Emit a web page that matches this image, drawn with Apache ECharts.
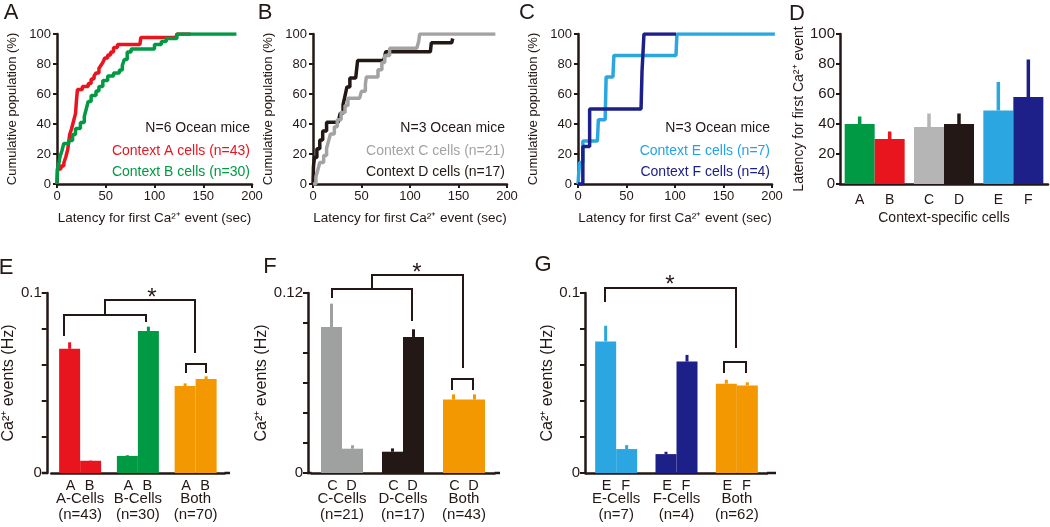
<!DOCTYPE html>
<html><head><meta charset="utf-8">
<script src="https://cdn.jsdelivr.net/npm/echarts@6/dist/echarts.min.js"></script>
<style>html,body{margin:0;padding:0;background:#fff}#c{width:1050px;height:527px}</style>
</head><body><div id="c"></div>
<script>
// ---------- DATA ----------
// Panel A: cumulative population (%) vs latency (sec)
const cdfA_red = [[0,0],[0.5,10],[4,12],[7,14],[9,18],[11,23],[12,28],[13,33],[15,37],[17,42],[19,47],[20,56],[21,63],[26,65],[32,67],[35,70],[38,72],[40,74],[43,77],[45,79],[47,81],[49,84],[52,86],[55,88],[58,91],[62,93],[85,93],[86,97.7],[122,97.7],[123,100],[137,100]];
const cdfA_green = [[0,0],[0.5,10],[2,14],[3,18],[5,22],[7,27],[12,29],[16,33],[19,37],[24,41],[28,45],[30,50],[32,55],[35,59],[40,62],[43,65],[47,69],[52,72],[58,74],[64,76],[67,79],[69,83],[72,88],[76,90],[97,90],[100,93],[107,95],[112,97],[123,100],[184,100]];
// Panel B
const cdfB_gray = [[0,0],[3,4.8],[5,9.5],[7,14.3],[11,19],[14,23.8],[16,28.6],[18,33.3],[22,38.1],[25,42.9],[29,47.6],[33,52.4],[36,57.1],[48,57.1],[50,61.9],[54,66.7],[55,71.4],[64,71.4],[67,76.2],[71,81],[74,85.7],[79,90.5],[107,90.5],[109,95.2],[110,100],[188,100]];
const cdfB_black = [[0,0],[0.5,11.8],[1.5,17.6],[4,23.5],[7,29.4],[10,35.3],[14,41.2],[26,41.2],[28,47.1],[31,52.9],[33,58.8],[35,64.7],[38,70.6],[44,70.6],[45,76.5],[46,82.4],[73,82.4],[75,88.2],[121,88.2],[122,94.1],[143,94.1],[144,97]];
// Panel C
const cdfC_light = [[0,0],[1.5,14.3],[5,28.6],[20,28.6],[21,42.9],[28,42.9],[29,71.4],[36,71.4],[37,85.7],[101,85.7],[102,100],[203,100]];
const cdfC_navy = [[0,0],[5,25],[12,50],[65,50],[66,75],[68,100],[101,100]];

// Panel D: latency for first Ca2+ event (mean, error top)
const dGroups = ['AB','CD','EF'];
const dFirstLabels = ['A','C','E'];
const dSecondLabels = ['B','D','F'];
const dFirst = [40, 38, 49];
const dFirstErr = [45, 47, 68];
const dSecond = [30, 40, 58];
const dSecondErr = [35, 47, 83];

// Panel E
const eGroups = ['A-Cells','B-Cells','Both'];
const eN = ['(n=43)','(n=30)','(n=70)'];
const eFirst = [0.069, 0.0095, 0.0483];
const eFirstErr = [0.0726, 0.0099, 0.0498];
const eSecond = [0.0068, 0.0789, 0.0522];
const eSecondErr = [0.0070, 0.0813, 0.0537];
// Panel F
const fGroups = ['C-Cells','D-Cells','Both'];
const fN = ['(n=21)','(n=17)','(n=43)'];
const fFirst = [0.0973, 0.0142, 0.049];
const fFirstErr = [0.1129, 0.0164, 0.0524];
const fSecond = [0.0162, 0.0907, 0.049];
const fSecondErr = [0.0185, 0.0958, 0.0524];
// Panel G
const gGroups = ['E-Cells','F-Cells','Both'];
const gN = ['(n=7)','(n=4)','(n=62)'];
const gFirst = [0.0731, 0.0105, 0.0496];
const gFirstErr = [0.0818, 0.0118, 0.0518];
const gSecond = [0.0133, 0.0619, 0.0486];
const gSecondErr = [0.0155, 0.0656, 0.0504];

// ---------- STYLE ----------
const K = '#231815', RED = '#e8141e', GREEN = '#009944', GRAY = '#a3a3a3', LBLUE = '#2ca6e0', NAVY = '#1d2088', ORANGE = '#f39800';
const FONT = 'Liberation Sans';

const chart = echarts.init(document.getElementById('c'), null, {renderer: 'canvas'});

const grids = [], xAxes = [], yAxes = [], series = [];

function cdfPanel(left, width) {
  const i = grids.length;
  grids.push({left: left, top: 34, width: width, height: 150});
  xAxes.push({gridIndex: i, type: 'value', min: 0, max: 200, interval: 50,
    axisLine: {lineStyle: {color: K, width: 2.5}}, axisTick: {length: 4, lineStyle: {color: K, width: 2}},
    axisLabel: {color: K, fontSize: 13, fontFamily: FONT, margin: 6}, splitLine: {show: false},
    name: 'Latency for first Ca²⁺ event (sec)', nameLocation: 'middle', nameGap: 27,
    nameTextStyle: {color: K, fontSize: 13.5, fontFamily: FONT}});
  yAxes.push({gridIndex: i, type: 'value', min: 0, max: 100, interval: 20,
    axisLine: {lineStyle: {color: K, width: 2.5}}, axisTick: {length: 4, lineStyle: {color: K, width: 2}},
    axisLabel: {color: K, fontSize: 13, fontFamily: FONT, margin: 6}, splitLine: {show: false},
    name: 'Cumulative population (%)', nameLocation: 'middle', nameGap: 38,
    nameTextStyle: {color: K, fontSize: 13, fontFamily: FONT}});
  return i;
}
function stepLine(i, data, color) {
  series.push({type: 'line', xAxisIndex: i, yAxisIndex: i, data: data, step: 'end', symbol: 'none',
    lineStyle: {color: color, width: 3.5}, silent: true, animation: false});
}

const a = cdfPanel(57, 195); stepLine(a, cdfA_red, RED); stepLine(a, cdfA_green, GREEN);
const b = cdfPanel(313, 194); stepLine(b, cdfB_black, K); stepLine(b, cdfB_gray, GRAY);
const c = cdfPanel(578, 194); stepLine(c, cdfC_light, LBLUE); stepLine(c, cdfC_navy, NAVY);

function errSeries(i, first, firstErr, second, secondErr, colsFirst, colsSecond, barW, errW) {
  const data = [];
  first.forEach((v, k) => { data.push([k, firstErr[k], v, -1]); data.push([k, secondErr[k], second[k], 1]); });
  series.push({type: 'custom', xAxisIndex: i, yAxisIndex: i, data: data, encode: {x: 0, y: 1}, silent: true, animation: false,
    renderItem: function (params, api) {
      const k = api.value(0), top = api.value(1), base = api.value(2), side = api.value(3);
      const p0 = api.coord([k, base]), p1 = api.coord([k, top]);
      const cx = p0[0] + side * barW / 2;
      return {type: 'rect', shape: {x: cx - errW / 2, y: p1[1], width: errW, height: p0[1] - p1[1]},
        style: {fill: side < 0 ? colsFirst[k] : colsSecond[k]}};
    }});
}
function barPair(i, first, second, colsFirst, colsSecond, barW) {
  series.push({type: 'bar', xAxisIndex: i, yAxisIndex: i, barWidth: barW, barGap: '0%', silent: true, animation: false,
    data: first.map((v, k) => ({value: v, itemStyle: {color: colsFirst[k]}}))});
  series.push({type: 'bar', xAxisIndex: i, yAxisIndex: i, barWidth: barW, barGap: '0%', silent: true, animation: false,
    data: second.map((v, k) => ({value: v, itemStyle: {color: colsSecond[k]}}))});
}

// Panel D
(function () {
  const i = grids.length;
  grids.push({left: 840, top: 34, width: 208, height: 150});
  xAxes.push({gridIndex: i, type: 'category', data: dGroups,
    axisLine: {lineStyle: {color: K, width: 2.5}}, axisTick: {show: false},
    axisLabel: {interval: 0, margin: 9, formatter: (v, k) => '{t|' + dFirstLabels[k] + '}{t|' + dSecondLabels[k] + '}',
      rich: {t: {width: 30, align: 'center', fontSize: 14, color: K, fontFamily: FONT}}},
    name: 'Context-specific cells', nameLocation: 'middle', nameGap: 27,
    nameTextStyle: {color: K, fontSize: 14, fontFamily: FONT}});
  yAxes.push({gridIndex: i, type: 'value', min: 0, max: 100, interval: 20,
    axisLine: {show: true, lineStyle: {color: K, width: 2.5}}, axisTick: {show: true, length: 4, lineStyle: {color: K, width: 2}},
    axisLabel: {color: K, fontSize: 15, fontFamily: FONT, margin: 5}, splitLine: {show: false},
    name: 'Latency for first Ca²⁺ event', nameLocation: 'middle', nameGap: 32,
    nameTextStyle: {color: K, fontSize: 14, fontFamily: FONT}});
  const cf = [GREEN, '#b5b5b6', LBLUE], cs = [RED, K, NAVY];
  barPair(i, dFirst, dSecond, cf, cs, 30);
  errSeries(i, dFirst, dFirstErr, dSecond, dSecondErr, cf, cs, 30, 3.5);
})();

function hzPanel(axisX, gridLeft, width, axisEnd, max, letters, groups, ns, first, firstErr, second, secondErr, cf, cs, nameGap) {
  const i = grids.length;
  grids.push({left: gridLeft, top: 293, width: width, height: 180});
  xAxes.push({gridIndex: i, type: 'category', data: groups,
    axisLine: {lineStyle: {color: K, width: 2.5}}, axisTick: {show: false},
    axisLabel: {interval: 0, margin: 6, formatter: (v, k) => '{t|' + letters[0] + '}{t|' + letters[1] + '}\n{m|' + groups[k] + '}\n{n|' + ns[k] + '}',
      rich: {t: {width: 19, align: 'center', fontSize: 14.5, lineHeight: 13, color: K, fontFamily: FONT},
             m: {fontSize: 15, lineHeight: 14, color: K, fontFamily: FONT},
             n: {fontSize: 15, lineHeight: 18, color: K, fontFamily: FONT}}}});
  yAxes.push({gridIndex: i, type: 'value', min: 0, max: max, interval: 0.02, offset: gridLeft - axisX,
    axisLine: {show: true, lineStyle: {color: K, width: 2.5}}, axisTick: {show: true, length: 5, lineStyle: {color: K, width: 2}},
    axisLabel: {color: K, fontSize: 15, fontFamily: FONT, margin: 5,
      formatter: v => Math.abs(v) < 1e-9 ? '0' : (Math.abs(v - max) < 1e-9 ? String(max) : '')},
    splitLine: {show: false},
    name: 'Ca²⁺ events (Hz)', nameLocation: 'middle', nameGap: nameGap,
    nameTextStyle: {color: K, fontSize: 16, fontFamily: FONT}});
  barPair(i, first, second, cf, cs, 21);
  errSeries(i, first, firstErr, second, secondErr, cf, cs, 21, 3);
  return {axisX, axisEnd, left: gridLeft, right: gridLeft + width};
}

const pE = hzPanel(43, 47.5, 177, 230, 0.1, ['A','B'], eGroups, eN, eFirst, eFirstErr, eSecond, eSecondErr, [RED, GREEN, ORANGE], [RED, GREEN, ORANGE], 14);
const pF = hzPanel(308, 311.5, 183, 500, 0.12, ['C','D'], fGroups, fN, fFirst, fFirstErr, fSecond, fSecondErr, ['#9fa0a0', K, ORANGE], ['#9fa0a0', K, ORANGE], 10);
const pG = hzPanel(585, 586, 181, 776, 0.1, ['E','F'], gGroups, gN, gFirst, gFirstErr, gSecond, gSecondErr, [LBLUE, NAVY, ORANGE], [LBLUE, NAVY, ORANGE], 16);

// ---------- ANNOTATIONS ----------
const graphic = [];
function txt(x, y, s, opt) {
  graphic.push({type: 'text', x: x, y: y, silent: true,
    style: Object.assign({text: s, fill: K, font: '14px "' + FONT + '"', textAlign: 'left', textVerticalAlign: 'middle'}, opt || {})});
}
function line(pts, w) {
  graphic.push({type: 'polyline', silent: true, shape: {points: pts}, style: {stroke: K, lineWidth: w || 2, fill: null}});
}
// panel letters
[['A', 11, 13], ['B', 265, 13], ['C', 527, 13], ['D', 797, 14], ['E', 6, 268], ['F', 270, 267], ['G', 543, 265]].forEach(l =>
  txt(l[1], l[2], l[0], {font: '22px "' + FONT + '"', textAlign: 'center'}));
// legends in A-C
function legend(xr, items) {
  items.forEach((it, k) => txt(xr, [128, 151, 172][k], it[0], {textAlign: 'right', fill: it[1], font: '14px "' + FONT + '"'}));
}
legend(250, [['N=6 Ocean mice', K], ['Context A cells (n=43)', RED], ['Context B cells (n=30)', GREEN]]);
legend(505, [['N=3 Ocean mice', K], ['Context C cells (n=21)', GRAY], ['Context D cells (n=17)', K]]);
legend(770, [['N=3 Ocean mice', K], ['Context E cells (n=7)', '#1fa4ea'], ['Context F cells (n=4)', NAVY]]);
// x-axis line extensions for bottom panels
[pE, pF, pG].forEach(p => {
  line([[p.axisX - 1, 473], [p.left, 473]], 2.5);
  line([[p.right, 473], [p.axisEnd, 473]], 2.5);
});
// brackets E
line([[64, 336], [64, 315], [146, 315], [146, 322]]);
line([[105, 315], [105, 300], [195, 300], [195, 353]]);
line([[186, 373], [186, 364], [206, 364], [206, 373]]);
txt(152, 298, '*', {font: '24px "' + FONT + '"', textAlign: 'center'});
// brackets F
line([[332, 298], [332, 289], [412, 289], [412, 321]]);
line([[372, 289], [372, 275], [463, 275], [463, 368]]);
line([[452, 390], [452, 379], [473, 379], [473, 390]]);
txt(417, 273, '*', {font: '24px "' + FONT + '"', textAlign: 'center'});
// brackets G
line([[605, 302], [605, 288], [736, 288], [736, 348]]);
line([[724, 373], [724, 362], [746, 362], [746, 373]]);
txt(670, 285, '*', {font: '24px "' + FONT + '"', textAlign: 'center'});

chart.setOption({
  animation: false,
  backgroundColor: '#ffffff',
  textStyle: {fontFamily: FONT},
  grid: grids, xAxis: xAxes, yAxis: yAxes, series: series, graphic: graphic
});
</script></body></html>
